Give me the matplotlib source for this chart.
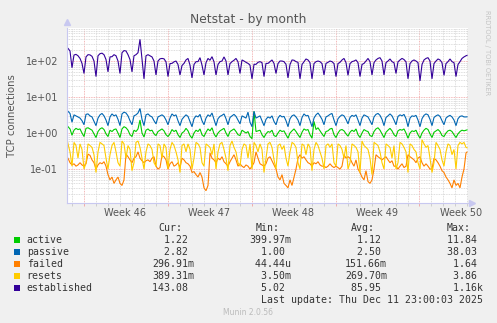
import numpy as np
import pandas as pd
import matplotlib
matplotlib.use("Agg")
import matplotlib.pyplot as plt
import matplotlib.dates as mdates
from matplotlib.patches import Rectangle
from matplotlib.ticker import LogLocator, FuncFormatter, NullFormatter
from matplotlib.transforms import blended_transform_factory

W, H = 497, 323

# 4-hourly samples, first one Nov 8 13:00, then 01/05/09/13/17/21 each day,
# last one is the final update at Dec 11 23:00
established = [
    230, 225, 190,
    65, 147, 153, 140, 118, 86,
    45, 130, 150, 148, 135, 100,
    37, 140, 160, 165, 150, 110,
    50, 130, 132, 150, 140, 100,
    45, 170, 195, 190, 150, 110,
    50, 140, 150, 170, 400, 110,
    32, 140, 150, 140, 130, 100,
    41, 100, 115, 118, 115, 95,
    37, 85, 86, 95, 100, 80,
    41, 75, 86, 107, 118, 77,
    34, 80, 96, 96, 124, 77,
    41, 90, 118, 105, 132, 95,
    41, 80, 96, 100, 130, 100,
    41, 85, 96, 105, 118, 95,
    45, 107, 100, 92, 86, 77,
    32, 81, 81, 92, 96, 90,
    37, 86, 86, 96, 107, 86,
    45, 85, 100, 100, 96, 81,
    34, 80, 107, 105, 96, 92,
    32, 80, 96, 114, 107, 90,
    32, 85, 96, 100, 96, 85,
    41, 86, 92, 100, 96, 85,
    37, 85, 92, 107, 118, 90,
    40, 85, 96, 100, 107, 90,
    37, 80, 86, 100, 118, 96,
    41, 90, 107, 118, 124, 100,
    41, 90, 100, 114, 96, 90,
    45, 95, 107, 118, 110, 95,
    32, 85, 100, 107, 100, 90,
    28, 80, 107, 118, 124, 100,
    32, 85, 100, 114, 107, 90,
    40, 85, 96, 114, 96, 90,
    37, 80, 96, 118, 130, 140,
    143.08,
]

passive = [
    4.6, 4.0, 3.5,
    2.0, 3.2, 3.0, 2.8, 2.6, 2.2,
    1.7, 3.3, 3.4, 3.0, 2.8, 2.1,
    1.6, 2.6, 3.2, 3.5, 3.0, 2.3,
    1.6, 2.8, 3.4, 3.0, 3.2, 2.4,
    1.6, 3.4, 3.8, 3.6, 3.0, 2.2,
    1.7, 3.0, 3.2, 3.6, 4.8, 2.4,
    1.6, 3.2, 3.4, 3.0, 2.8, 2.2,
    1.8, 2.8, 3.0, 3.2, 2.9, 2.3,
    1.7, 2.6, 3.4, 3.0, 3.2, 2.2,
    1.6, 2.4, 2.8, 3.2, 2.9, 2.1,
    1.5, 2.5, 3.0, 2.8, 3.3, 2.2,
    1.7, 2.6, 3.2, 2.9, 3.6, 2.4,
    1.6, 2.5, 2.9, 3.1, 3.4, 2.5,
    1.7, 2.7, 3.0, 3.3, 2.9, 2.3,
    1.8, 3.0, 2.8, 2.6, 3.8, 2.0,
    1.5, 4.0, 2.6, 2.8, 3.0, 2.2,
    1.6, 2.4, 2.8, 2.6, 3.0, 2.1,
    1.7, 2.6, 3.1, 2.8, 2.9, 2.2,
    1.5, 2.5, 3.0, 3.2, 2.8, 2.3,
    1.6, 2.7, 3.4, 3.0, 3.1, 2.2,
    1.5, 2.6, 3.2, 3.6, 3.0, 2.4,
    1.7, 2.8, 3.0, 3.3, 3.5, 2.3,
    1.6, 2.5, 2.9, 3.2, 3.0, 2.4,
    1.8, 2.7, 3.1, 2.9, 3.2, 2.3,
    1.6, 2.6, 3.2, 3.0, 2.8, 2.2,
    1.7, 2.8, 3.3, 3.5, 3.1, 2.4,
    1.6, 2.7, 3.0, 3.4, 3.0, 2.3,
    1.7, 2.9, 3.2, 3.0, 3.3, 2.5,
    1.5, 2.6, 3.0, 2.9, 3.1, 2.3,
    1.5, 2.5, 3.1, 3.4, 3.2, 2.4,
    1.6, 2.7, 3.0, 3.2, 2.9, 2.2,
    1.7, 2.6, 2.9, 3.1, 2.8, 2.3,
    1.6, 2.5, 2.9, 3.0, 2.8, 2.8,
    2.82,
]

active = [
    1.74, 1.5, 1.3,
    0.87, 1.2, 1.35, 1.25, 1.3, 1.0,
    0.8, 1.35, 1.4, 1.3, 1.2, 0.95,
    0.75, 1.1, 1.3, 1.4, 1.25, 0.95,
    0.8, 1.2, 1.1, 1.25, 1.3, 1.0,
    0.75, 1.3, 1.5, 1.4, 1.2, 0.9,
    0.8, 1.2, 1.1, 1.3, 2.3, 1.0,
    0.78, 1.2, 1.3, 1.15, 1.2, 0.95,
    0.85, 1.1, 1.2, 1.3, 1.15, 0.9,
    0.8, 0.95, 1.25, 1.1, 1.2, 0.9,
    0.75, 1.0, 1.1, 1.35, 1.15, 0.85,
    0.72, 1.0, 1.2, 1.1, 1.3, 0.9,
    0.8, 1.05, 1.3, 1.15, 1.4, 0.95,
    0.78, 1.0, 1.15, 1.25, 1.35, 1.0,
    0.8, 1.1, 1.2, 1.3, 1.1, 0.9,
    0.85, 1.2, 1.1, 1.0, 1.1, 0.8,
    0.7, 4.0, 1.1, 1.15, 1.2, 0.9,
    0.75, 0.95, 1.1, 1.05, 1.2, 0.85,
    0.8, 1.0, 1.2, 1.1, 1.15, 0.9,
    0.72, 1.0, 1.15, 1.3, 1.1, 0.9,
    0.75, 1.05, 1.3, 1.2, 1.25, 0.9,
    0.72, 2.1, 1.25, 1.4, 1.15, 0.95,
    0.8, 1.1, 1.15, 1.3, 1.35, 0.9,
    0.75, 1.0, 1.2, 1.25, 1.15, 0.95,
    0.82, 1.05, 1.2, 1.1, 1.3, 0.9,
    0.75, 1.0, 1.25, 1.15, 1.1, 0.85,
    0.8, 1.1, 1.3, 1.4, 1.2, 0.95,
    0.75, 1.05, 1.2, 1.35, 1.15, 0.9,
    0.8, 1.15, 1.25, 1.2, 1.3, 1.0,
    0.72, 1.0, 1.15, 1.1, 1.2, 0.9,
    0.72, 1.0, 1.2, 1.35, 1.25, 0.95,
    0.75, 1.05, 1.15, 1.25, 1.1, 0.85,
    0.8, 1.0, 1.15, 1.2, 1.1, 0.9,
    0.75, 0.95, 1.1, 1.2, 1.15, 1.2,
    1.22,
]

resets = [
    0.9, 0.5, 0.3,
    0.12, 0.55, 0.45, 0.2, 0.5, 0.35,
    0.1, 0.15, 0.5, 0.45, 0.4, 0.25,
    0.08, 0.3, 0.55, 0.5, 0.45, 0.2,
    0.1, 0.25, 0.45, 0.55, 0.3, 0.15,
    0.12, 0.6, 0.5, 0.2, 0.45, 0.35,
    0.09, 0.15, 0.55, 0.6, 0.4, 0.2,
    0.1, 0.3, 0.5, 0.45, 0.35, 0.15,
    0.12, 0.5, 0.45, 0.2, 0.5, 0.4,
    0.1, 0.35, 0.55, 0.45, 0.3, 0.18,
    0.08, 0.45, 0.5, 0.3, 0.5, 0.35,
    0.1, 0.2, 0.55, 0.5, 0.4, 0.15,
    0.12, 0.5, 0.45, 0.4, 0.25, 0.5,
    0.1, 0.3, 0.5, 0.55, 0.35, 0.2,
    0.09, 0.45, 0.6, 0.4, 0.3, 0.15,
    0.12, 0.35, 0.5, 0.45, 0.2, 0.5,
    0.1, 0.55, 0.45, 0.3, 0.5, 0.35,
    0.08, 0.2, 0.5, 0.55, 0.4, 0.18,
    0.1, 0.45, 0.5, 0.35, 0.45, 0.2,
    0.12, 0.3, 0.55, 0.5, 0.4, 0.15,
    0.1, 0.5, 0.45, 0.25, 0.5, 0.4,
    0.09, 0.35, 0.55, 0.45, 0.3, 0.2,
    0.1, 0.45, 0.5, 0.4, 0.5, 0.15,
    0.12, 0.5, 0.45, 0.35, 0.2, 0.45,
    0.1, 0.15, 0.5, 0.45, 0.4, 0.3,
    0.08, 0.6, 0.45, 0.4, 0.35, 0.2,
    0.07, 0.55, 0.5, 0.45, 0.3, 0.15,
    0.1, 0.5, 0.45, 0.4, 0.2, 0.45,
    0.1, 0.15, 0.55, 0.5, 0.4, 0.3,
    0.08, 0.5, 0.45, 0.35, 0.3, 0.15,
    0.1, 0.65, 0.5, 0.4, 0.45, 0.2,
    0.08, 0.15, 0.55, 0.45, 0.35, 0.18,
    0.12, 0.3, 0.5, 0.45, 0.25, 0.35,
    0.1, 0.45, 0.55, 0.5, 0.55, 0.4,
    0.38931,
]

failed = [
    0.22, 0.2, 0.15,
    0.13, 0.14, 0.12, 0.13, 0.15, 0.13,
    0.12, 0.14, 0.26, 0.24, 0.18, 0.15,
    0.1, 0.13, 0.15, 0.14, 0.16, 0.12,
    0.07, 0.05, 0.06, 0.04, 0.05, 0.06,
    0.04, 0.035, 0.05, 0.26, 0.22, 0.18,
    0.15, 0.2, 0.22, 0.3, 0.2, 0.17,
    0.15, 0.17, 0.18, 0.16, 0.2, 0.22,
    0.12, 0.1, 0.11, 0.24, 0.22, 0.18,
    0.1, 0.14, 0.16, 0.12, 0.13, 0.15,
    0.11, 0.2, 0.18, 0.15, 0.14, 0.12,
    0.08, 0.085, 0.07, 0.06, 0.08, 0.06,
    0.03, 0.025, 0.035, 0.28, 0.2, 0.18,
    0.15, 0.2, 0.18, 0.22, 0.16, 0.14,
    0.12, 0.16, 0.2, 0.25, 0.18, 0.12,
    0.14, 0.12, 0.11, 0.13, 0.12, 0.1,
    0.12, 0.15, 0.3, 0.2, 0.14, 0.13,
    0.12, 0.14, 0.2, 0.22, 0.17, 0.13,
    0.1, 0.06, 0.05, 0.07, 0.04, 0.035,
    0.03, 0.05, 0.035, 0.06, 0.1, 0.2,
    0.25, 0.2, 0.22, 0.18, 0.15, 0.14,
    0.12, 0.15, 0.14, 0.16, 0.13, 0.12,
    0.12, 0.11, 0.12, 0.14, 0.12, 0.11,
    0.12, 0.11, 0.1, 0.12, 0.25, 0.2,
    0.22, 0.2, 0.15, 0.12, 0.18, 0.1,
    0.08, 0.06, 0.05, 0.09, 0.045, 0.04,
    0.05, 0.1, 0.25, 0.22, 0.2, 0.18,
    0.2, 0.22, 0.18, 0.15, 0.17, 0.12,
    0.12, 0.1, 0.12, 0.14, 0.11, 0.12,
    0.25, 0.22, 0.2, 0.18, 0.15, 0.2,
    0.22, 0.15, 0.12, 0.14, 0.12, 0.1,
    0.1, 0.2, 0.18, 0.15, 0.12, 0.09,
    0.08, 0.06, 0.05, 0.04, 0.03, 0.05,
    0.035, 0.04, 0.03, 0.06, 0.1, 0.28,
    0.29691,
]

series_names = ["active", "passive", "failed", "resets", "established"]
series_colors = ["#00CC00", "#0066B3", "#FF8000", "#FFCC00", "#330099"]
series_values = [active, passive, failed, resets, established]

stat_cur = [1.22, 2.82, 0.29691, 0.38931, 143.08]
stat_min = [0.39997, 1.00, 44.44e-6, 3.50e-3, 5.02]
stat_avg = [1.12, 2.50, 0.15166, 0.26970, 85.95]
stat_max = [11.84, 38.03, 1.64, 3.86, 1160.0]

week_labels = ["Week 46", "Week 47", "Week 48", "Week 49", "Week 50"]
week_starts = ["2025-11-10", "2025-11-17", "2025-11-24", "2025-12-01", "2025-12-08"]

times = pd.date_range("2025-11-08 13:00", periods=len(established) - 1, freq="4h")
times = times.append(pd.DatetimeIndex(["2025-12-11 23:00"]))

BG = "#F0F0F0"
fig = plt.figure(figsize=(W / 100, H / 100), dpi=100, facecolor=BG)


def px_x(x):
    return x / W


def px_y(y):
    return 1 - y / H


ax = fig.add_axes([px_x(67), px_y(203), 401 / W, 175 / H])
ax.set_facecolor("white")

for vals, col in zip(series_values, series_colors):
    ax.plot(times, vals, color=col, lw=0.8, solid_joinstyle="miter")

ax.set_yscale("log")
ax.set_ylim(0.0114, 826)
ax.set_xlim(pd.Timestamp("2025-11-08 15:00"), pd.Timestamp("2025-12-12 01:00"))

ax.yaxis.set_major_locator(LogLocator(base=10, numticks=20))
ax.yaxis.set_minor_locator(LogLocator(base=10, subs=np.arange(2, 10), numticks=20))
ax.yaxis.set_major_formatter(FuncFormatter(lambda v, p: f"{v:.0e}"))
ax.yaxis.set_minor_formatter(NullFormatter())

ax.xaxis.set_major_locator(mdates.WeekdayLocator(byweekday=mdates.MO))
ax.xaxis.set_minor_locator(mdates.DayLocator())
ax.xaxis.set_major_formatter(plt.NullFormatter())

dotted = (0, (1, 1))
ax.grid(which="minor", color="#d2d2d2", lw=0.6, ls=dotted)
ax.grid(which="major", color="#f0a0a0", lw=0.6, ls=dotted)
ax.set_axisbelow(True)

for s in ("top", "right"):
    ax.spines[s].set_visible(False)
for s in ("left", "bottom"):
    ax.spines[s].set_color("#c8c8f0")
    ax.spines[s].set_linewidth(0.8)

ax.tick_params(axis="y", which="both", length=0, pad=6.5, labelsize=7, labelcolor="#555555")
ax.tick_params(axis="x", which="minor", length=2.5, color="#c8c8c8", width=0.6)
ax.tick_params(axis="x", which="major", length=2.5, color="#f0a0a0", width=0.6)

# week labels sit in the middle of each week
trans = blended_transform_factory(ax.transData, fig.transFigure)
for lab, ws in zip(week_labels, week_starts):
    mid = mdates.date2num(pd.Timestamp(ws) + pd.Timedelta(hours=84))
    ax.text(mid, px_y(212.5), lab, transform=trans, ha="center", va="center",
            fontsize=7, color="#555555", clip_on=False)

# axis arrow heads
ax.plot([0], [1.034], marker="^", ms=4, color="#c8c8f0", transform=ax.transAxes, clip_on=False)
ax.plot([1.009], [0], marker=">", ms=4, color="#c8c8f0", transform=ax.transAxes, clip_on=False)

fig.text(px_x(248), px_y(19), "Netstat - by month", ha="center", va="center",
         fontsize=8.8, color="#555555")
fig.text(px_x(12), px_y(115.5), "TCP connections", rotation=90, ha="center", va="center",
         fontsize=7.3, color="#555555")
fig.text(px_x(487.5), px_y(53), "RRDTOOL / TOBI OETIKER", rotation=270, ha="center", va="center",
         fontsize=4.8, color="#c4c4c4")


def si(v):
    if v >= 1000:
        return "%6.2f%s" % (v / 1000, "k")
    if v >= 1:
        return "%6.2f%s" % (v, " ")
    if v >= 1e-3:
        return "%6.2f%s" % (v * 1e3, "m")
    return "%6.2f%s" % (v * 1e6, "u")


mono = dict(family="DejaVu Sans Mono", fontsize=7.1, color="#333333", va="center")
col_x = [152.3, 249.3, 345.0, 440.8]
headers = ["Cur:", "Min:", "Avg:", "Max:"]
for cx, hd in zip(col_x, headers):
    fig.text(px_x(cx + 5.9), px_y(228.3), hd, **mono)

row_y = [239.7, 251.7, 263.7, 275.7, 287.7]
stats = [stat_cur, stat_min, stat_avg, stat_max]
for i, (name, col) in enumerate(zip(series_names, series_colors)):
    y = row_y[i]
    fig.add_artist(Rectangle((px_x(14), px_y(y + 3)), 6 / W, 6 / H,
                             transform=fig.transFigure, facecolor=col, edgecolor="none"))
    fig.text(px_x(26.7), px_y(y), name, **mono)
    for cx, st in zip(col_x, stats):
        fig.text(px_x(cx), px_y(y), si(st[i]), **mono)

fig.text(px_x(482.7), px_y(299.7), "Last update: Thu Dec 11 23:00:03 2025",
         ha="right", **mono)
fig.text(px_x(248), px_y(312.3), "Munin 2.0.56", ha="center", va="center",
         fontsize=5.5, color="#bbbbbb")

fig.savefig("out.png", dpi=100, facecolor=BG)
